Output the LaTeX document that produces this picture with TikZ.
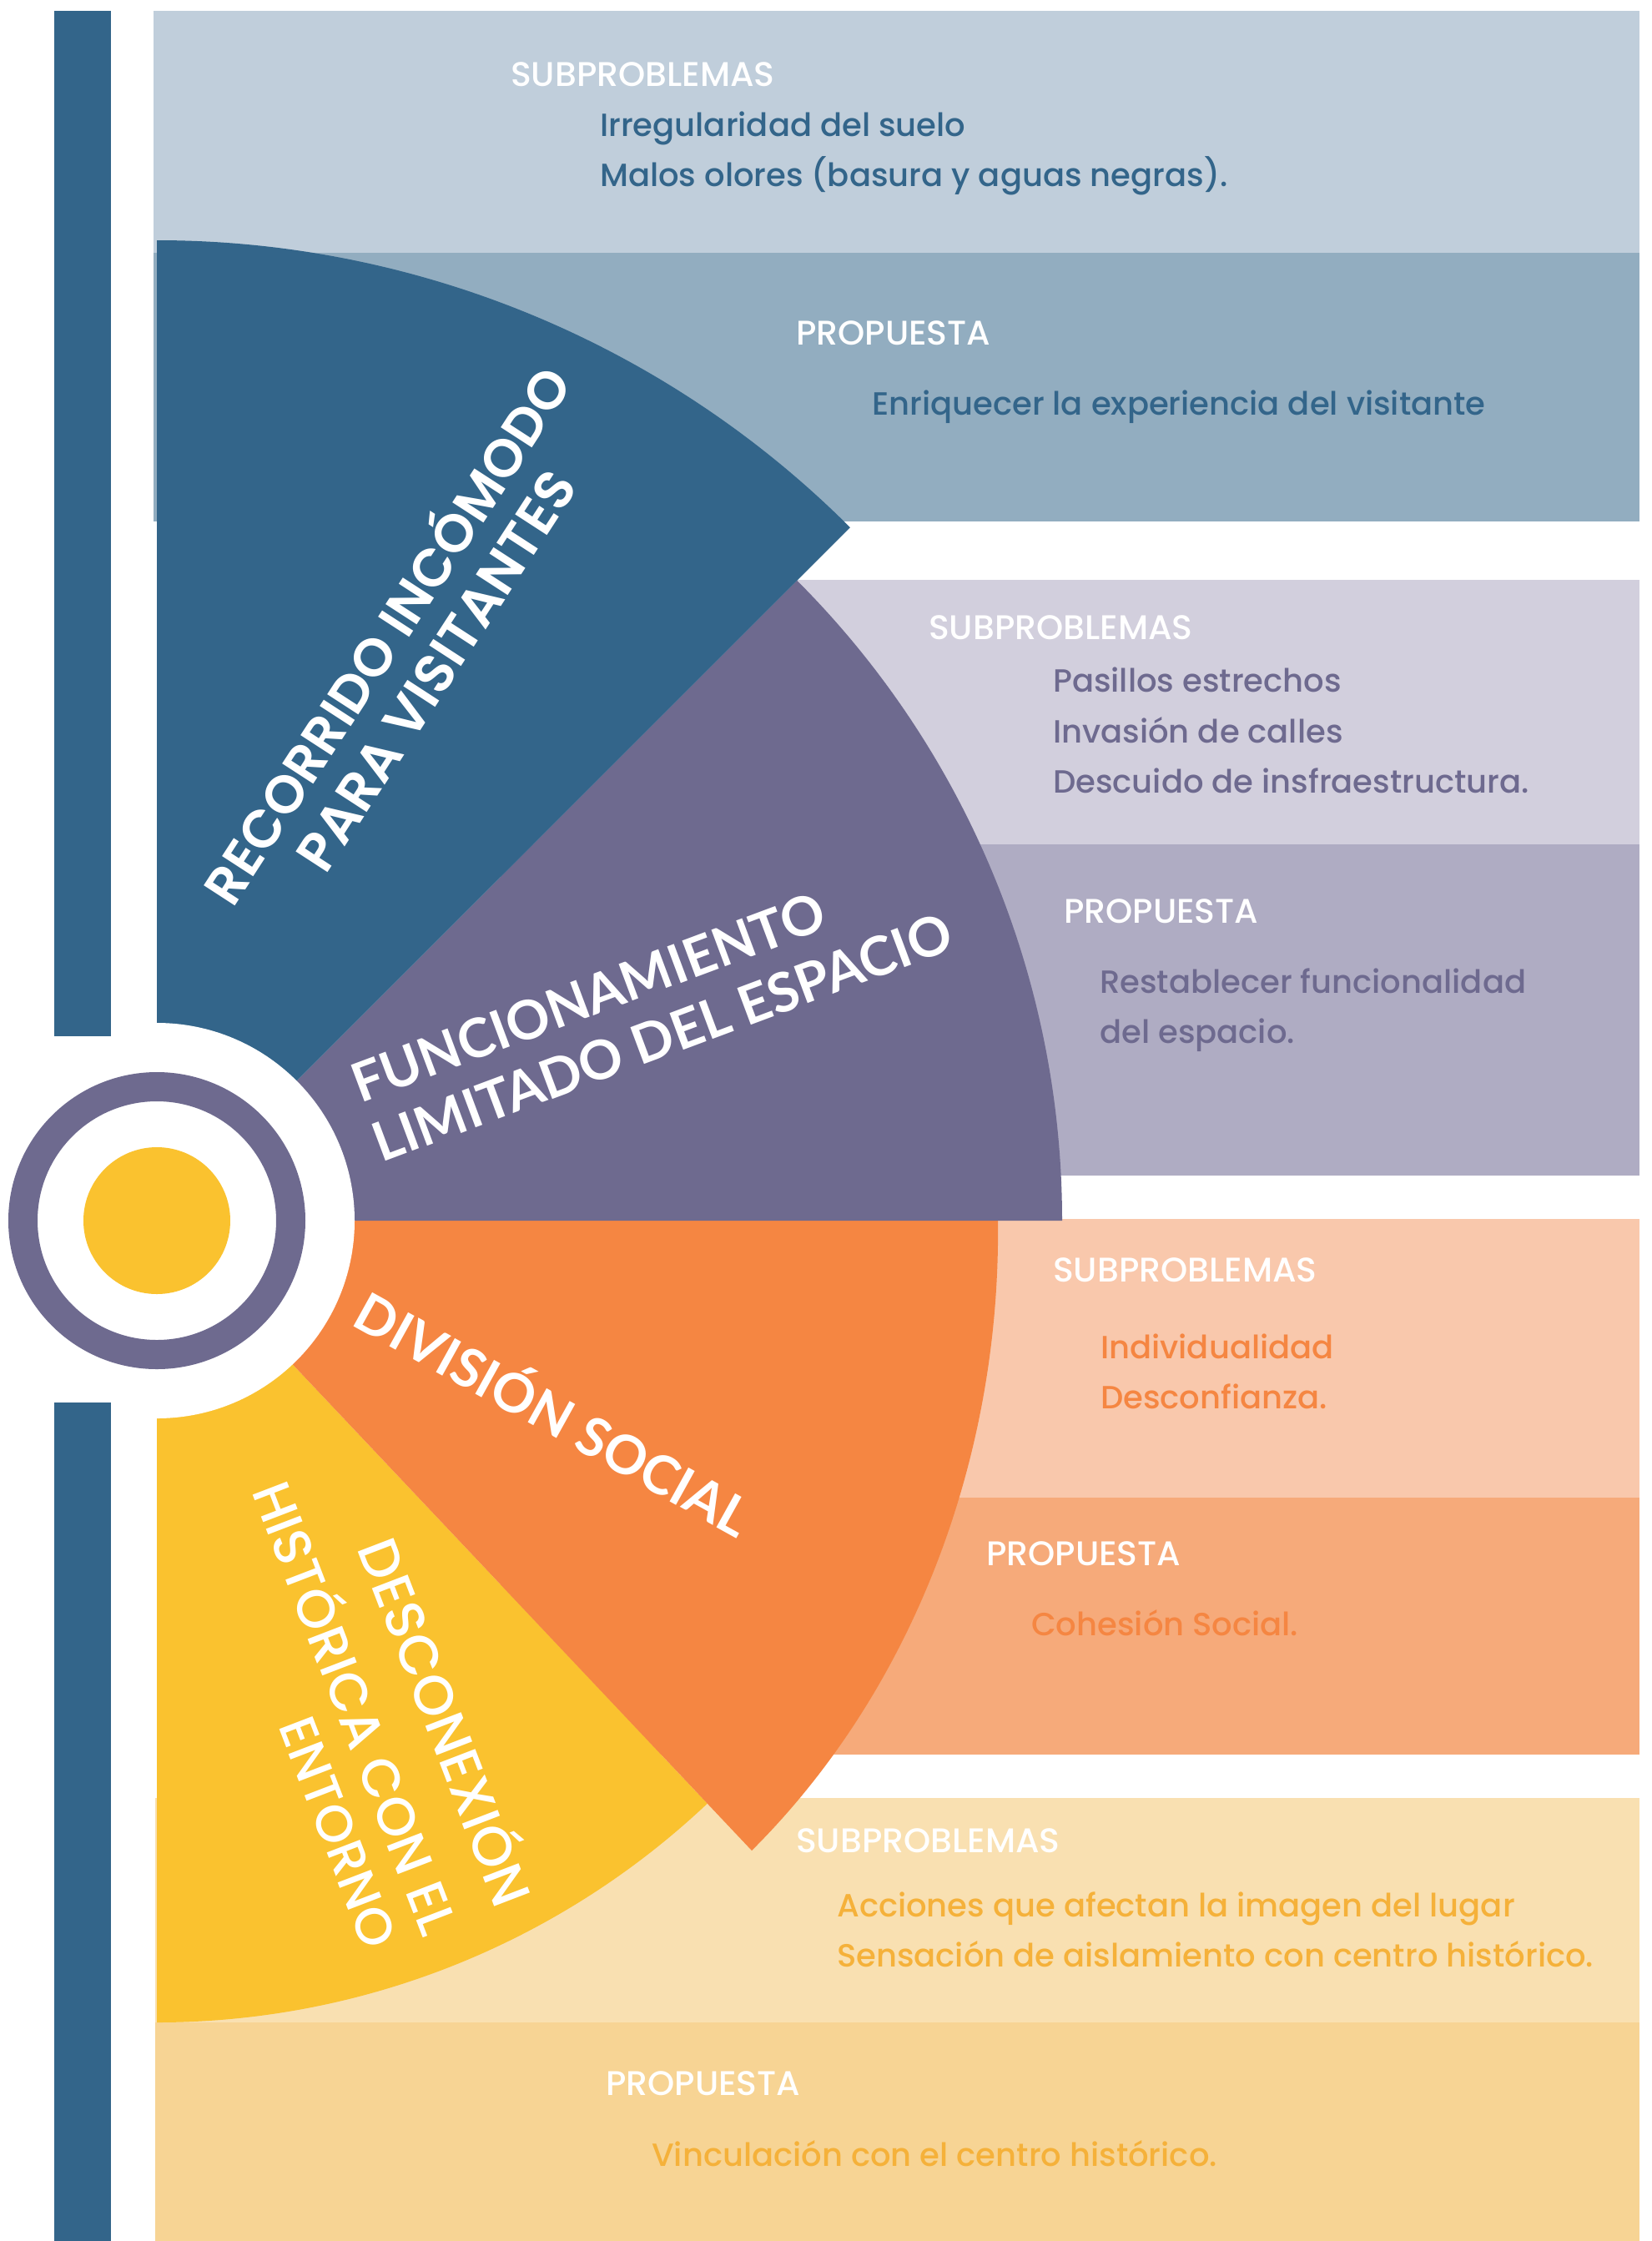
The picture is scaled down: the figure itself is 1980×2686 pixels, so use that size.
\documentclass[tikz,border=0pt]{standalone}
\usepackage{fontspec}
\usepackage{graphicx}
\setmainfont{Poppins}
\newfontfamily\popm{Poppins}[UprightFont=* Medium]
\newfontfamily\popsb{Poppins}[UprightFont=* SemiBold]
\newfontfamily\latob{Lato}[UprightFont=* Bold]
\definecolor{dblue}{HTML}{33658A}
\definecolor{pa}{HTML}{C0CEDB}
\definecolor{pb}{HTML}{92ADC0}
\definecolor{purp}{HTML}{6E6A8F}
\definecolor{pc}{HTML}{D2CFDD}
\definecolor{pd}{HTML}{AFACC3}
\definecolor{orng}{HTML}{F58642}
\definecolor{pe}{HTML}{F9C8AC}
\definecolor{pf}{HTML}{F6AA7A}
\definecolor{yell}{HTML}{FAC22F}
\definecolor{pg}{HTML}{F9E0B1}
\definecolor{ph}{HTML}{F7D494}
\definecolor{ytext}{HTML}{F5B13A}
\begin{document}
\begin{tikzpicture}[x=1pt,y=1pt,
  head/.style={anchor=base west, inner sep=0pt, text=white, font=\popm\fontsize{41}{44}\selectfont},
  item/.style={anchor=base west, inner sep=0pt, font=\popm\fontsize{38.5}{42}\selectfont},
  title/.style={anchor=center, inner sep=0pt, text=white}]
\useasboundingbox (0,0) rectangle (1980,-2686);
\fill[white] (0,0) rectangle (1980,-2686);
% panels
\fill[pa] (184,-13) rectangle (1965,-303);
\fill[pb] (184,-303) rectangle (1965,-625);
\fill[pc] (600,-695) rectangle (1965,-1012);
\fill[pd] (600,-1012) rectangle (1965,-1409);
\fill[pe] (600,-1461) rectangle (1965,-1795);
\fill[pf] (600,-1795) rectangle (1965,-2103);
\fill[pg] (186,-2155) rectangle (1965,-2424);
\fill[ph] (186,-2424) rectangle (1965,-2686);
% sectors
\coordinate (C) at (188,-1463);
\fill[yell] (C) -- ++(-90:961) arc[start angle=-90, end angle=-46.64, radius=961] -- cycle;
\fill[orng] (C) -- (1196,-1461) .. controls (1200,-1745) and (1095,-2025) .. (901,-2218) -- cycle;
\fill[purp] (C) -- ++(0:1085) arc[start angle=0, end angle=45, radius=1085] -- cycle;
\fill[dblue] (C) -- ++(45:1175) arc[start angle=45, end angle=90, radius=1175] -- cycle;
% hub
\fill[white] (C) circle[radius=237];
\draw[purp, line width=35pt] (C) circle[radius=160.5];
\fill[yell] (C) circle[radius=88];
% bars
\fill[dblue] (65,-13) rectangle (133,-1242);
\fill[dblue] (65,-1681) rectangle (133,-2686);
% titles
\node[title, rotate=57] (t1a) at (458,-758) {\resizebox{750pt}{!}{\popsb RECORRIDO INCÓMODO}};
\node[title, rotate=57] (t1b) at (523,-804) {\resizebox{556pt}{!}{\popsb PARA VISITANTES}};
\node[title, rotate=20.5] (t2a) at (705,-1195) {\resizebox{600pt}{!}{\latob FUNCIONAMIENTO}};
\node[title, rotate=20.5] (t2b) at (794,-1243) {\resizebox{735pt}{!}{\latob LIMITADO DEL ESPACIO}};
\node[title, rotate=-29] (t3) at (666,-1690) {\resizebox{530pt}{!}{\latob DIVISIÓN SOCIAL}};
\node[title, rotate=-69] (t4a) at (540,-2062) {\resizebox{465pt}{!}{\popm DESCONEXIÓN}};
\node[title, rotate=-69] (t4b) at (432,-2045) {\resizebox{575pt}{!}{\popm HISTÓRICA CON EL}};
\node[title, rotate=-69] (t4c) at (405,-2196) {\resizebox{290pt}{!}{\popm ENTORNO}};
% panel 1
\node[head] (h1) at (612,-103) {SUBPROBLEMAS};
\node[item, text=dblue] (i1a) at (719,-163) {Irregularidad del suelo};
\node[item, text=dblue] (i1b) at (719,-223) {Malos olores (basura y aguas negras).};
% panel 2
\node[head] (h2) at (954,-413) {PROPUESTA};
\node[item, text=dblue] (i2a) at (1045,-497) {Enriquecer la experiencia del visitante};
% panel 3
\node[head] (h3) at (1113,-766) {SUBPROBLEMAS};
\node[item, text=purp] (i3a) at (1262,-829) {Pasillos estrechos};
\node[item, text=purp] (i3b) at (1262,-890) {Invasión de calles};
\node[item, text=purp] (i3c) at (1262,-950) {Descuido de insfraestructura.};
% panel 4
\node[head] (h4) at (1275,-1106) {PROPUESTA};
\node[item, text=purp] (i4a) at (1318,-1190) {Restablecer funcionalidad};
\node[item, text=purp] (i4b) at (1318,-1250) {del espacio.};
% panel 5
\node[head] (h5) at (1262,-1536) {SUBPROBLEMAS};
\node[item, text=orng] (i5a) at (1319,-1628) {Individualidad};
\node[item, text=orng] (i5b) at (1319,-1688) {Desconfianza.};
% panel 6
\node[head] (h6) at (1182,-1876) {PROPUESTA};
\node[item, text=orng] (i6a) at (1236,-1960) {Cohesión Social.};
% panel 7
\node[head] (h7) at (954,-2220) {SUBPROBLEMAS};
\node[item, text=ytext] (i7a) at (1003,-2297) {Acciones que afectan la imagen del lugar};
\node[item, text=ytext] (i7b) at (1003,-2357) {Sensación de aislamiento con centro histórico.};
% panel 8
\node[head] (h8) at (726,-2511) {PROPUESTA};
\node[item, text=ytext] (i8a) at (781,-2596) {Vinculación con el centro histórico.};
\end{tikzpicture}
\end{document}
